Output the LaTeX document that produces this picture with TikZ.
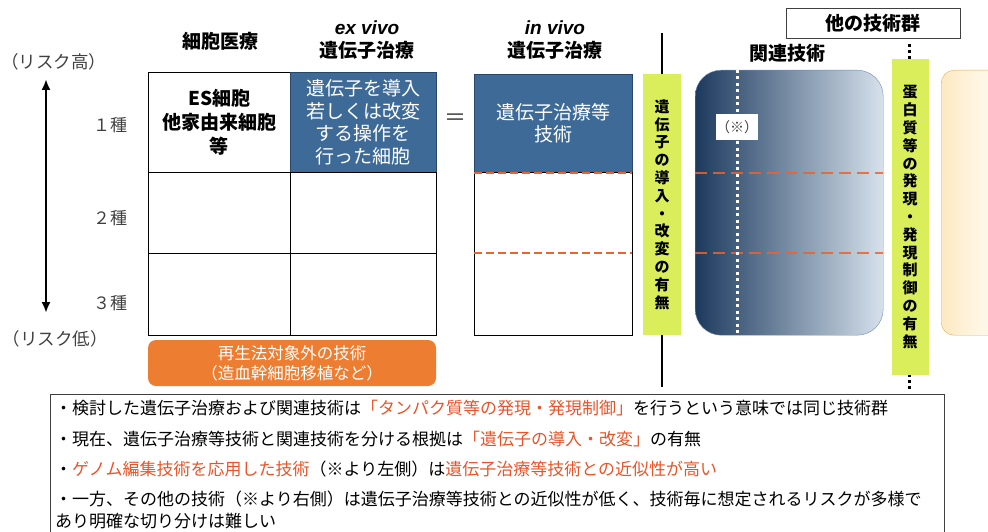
\documentclass[tikz,border=0pt]{standalone}
\usepackage{fontspec}
\setmainfont{Noto Sans CJK JP}
\newfontfamily\latinsans{Liberation Sans}
\usetikzlibrary{arrows.meta}

\definecolor{cellblue}{RGB}{62,106,152}
\definecolor{cellline}{RGB}{40,70,105}
\definecolor{bandgreen}{RGB}{218,238,92}
\definecolor{hl}{RGB}{232,84,40}
\definecolor{boxorange}{RGB}{237,125,49}
\definecolor{dashorange}{RGB}{232,100,50}
\definecolor{navy}{RGB}{28,58,94}
\definecolor{paleblue}{RGB}{214,225,236}
\definecolor{relline}{RGB}{110,140,175}
\definecolor{gold}{RGB}{246,200,105}
\definecolor{peach}{RGB}{252,228,180}
\definecolor{cream}{RGB}{255,247,230}
\definecolor{goldline}{RGB}{222,175,90}
\definecolor{softgray}{RGB}{64,64,64}
\pgfdeclarehorizontalshading{goldfade}{100bp}{color(0bp)=(gold); color(18bp)=(peach); color(45bp)=(cream); color(100bp)=(cream)}

\begin{document}
\begin{tikzpicture}[x=1pt, y=-1pt,
  head/.style={font=\bfseries\fontsize{19}{23}\selectfont, align=center},
  cell/.style={draw, anchor=north west, inner sep=0pt, align=center},
  band/.style={fill=bandgreen, inner sep=0pt, align=center, font=\bfseries\fontsize{15}{17.8}\selectfont},
  odash/.style={dashorange, line width=2pt, dash pattern=on 8pt off 4pt},
  note/.style={anchor=west, inner sep=0pt, font=\fontsize{17}{21}\selectfont},
  rank/.style={text=softgray, font=\fontsize{17}{20}\selectfont}]
\useasboundingbox (0,0) rectangle (988,532);
\clip (0,0) rectangle (988,532);

% Risk axis
\node[rank, font=\fontsize{17.5}{20}\selectfont] (riskhi) at (54,62) {（リスク高）};
\node[rank, font=\fontsize{17.5}{20}\selectfont] (risklo) at (55,339) {（リスク低）};
\coordinate (axtop) at (46,79);
\coordinate (axbot) at (46,313);
\draw[<->, >={Latex[length=11pt,width=9pt]}, line width=2.6pt] (axtop) -- (axbot);

\node[rank] (r1) at (110,125) {１種};
\node[rank] (r2) at (110,218) {２種};
\node[rank] (r3) at (110,303) {３種};

% Column heads
\node[head] (hcell) at (220,41) {細胞医療};
\node[head] (hex) at (367,40) {{\latinsans\itshape ex vivo}\\遺伝子治療};
\node[head] (hin) at (555,40) {{\latinsans\itshape in vivo}\\遺伝子治療};

% ex vivo table
\node[cell, minimum width=142pt, minimum height=100pt, font=\bfseries\fontsize{19}{24}\selectfont] (es) at (148,72) {ES細胞\\他家由来細胞\\等};
\node[cell, fill=cellblue, draw=cellline, text=white, minimum width=146pt, minimum height=100pt, font=\fontsize{19}{22.5}\selectfont] (exgene) at (290,72) {遺伝子を導入\\若しくは改変\\する操作を\\行った細胞};
\node[cell, minimum width=142pt, minimum height=81pt] (es2) at (148,172) {};
\node[cell, minimum width=146pt, minimum height=81pt] (ex2) at (290,172) {};
\node[cell, minimum width=142pt, minimum height=82pt] (es3) at (148,253) {};
\node[cell, minimum width=146pt, minimum height=82pt] (ex3) at (290,253) {};

\node[font=\fontsize{22}{22}\selectfont, text=softgray] (eq) at (455,120) {＝};

% in vivo table
\node[cell, fill=cellblue, draw=cellline, text=white, minimum width=158pt, minimum height=98pt, font=\fontsize{19}{22.5}\selectfont] (ivgene) at (474,74) {遺伝子治療等\\技術};
\node[cell, minimum width=158pt, minimum height=163pt] (ivrest) at (474,172) {};
\coordinate (ivcut) at (474,253);
\draw[odash] ([yshift=-1pt]ivrest.north west) -- ([yshift=-1pt]ivrest.north east);
\draw[odash] (ivcut) -- (ivcut -| ivrest.east);

% Gene band
\coordinate (cuttop) at (662,33);
\coordinate (cutbot) at (662,387);
\draw[line width=2.5pt] (cuttop) -- (cutbot);
\node[band, minimum width=38pt, minimum height=261pt] (geneband) at (662,204.5) {遺\\伝\\子\\の\\導\\入\\・\\改\\変\\の\\有\\無};

% Related techniques
\node[head] (hrel) at (787,53) {関連技術};
\node[draw=relline, rounded corners=26pt, left color=navy, right color=paleblue, anchor=north west, minimum width=188pt, minimum height=265pt] (related) at (695,70) {};
\draw[odash, opacity=0.85, dash pattern=on 12pt off 6pt] ([yshift=-1pt]related.west |- ivrest.north) -- ([yshift=-1pt]related.east |- ivrest.north);
\draw[odash, opacity=0.85, dash pattern=on 12pt off 6pt] (related.west |- ivcut) -- (related.east |- ivcut);

\coordinate (marktop) at (737,70);
\coordinate (markbot) at (737,346);
\draw[white, line width=3pt, dash pattern=on 3pt off 3.5pt] (marktop) -- (markbot);
\node[fill=white, minimum width=41pt, minimum height=26pt, inner sep=0pt, text=softgray, font=\fontsize{14}{16}\selectfont] (mark) at (737,127) {（※）};

% Other techniques
\node[head, draw=softgray, minimum width=174pt, minimum height=30pt, inner sep=0pt] (other) at (873,23) {他の技術群};
\coordinate (prottop) at (909,44);
\coordinate (protbot) at (909,390);
\draw[line width=3pt, dash pattern=on 3pt off 3pt] (prottop) -- (protbot);
\node[band, minimum width=37pt, minimum height=316pt] (protband) at (910,217) {蛋\\白\\質\\等\\の\\発\\現\\・\\発\\現\\制\\御\\の\\有\\無};
\node[draw=goldline, rounded corners=13pt, shading=goldfade, anchor=north west, minimum width=100pt, minimum height=265pt] (otherbox) at (941,70) {};

% Outside the law
\node[fill=boxorange, rounded corners=8pt, minimum width=288pt, minimum height=46pt, inner sep=0pt, text=white, align=center, font=\fontsize{16.5}{20}\selectfont] (outside) at (292,363) {再生法対象外の技術\\（造血幹細胞移植など）};

% Notes
\node[draw=softgray, anchor=north west, minimum width=894pt, minimum height=160pt] (notes) at (50,394) {};
\node[note] (n1) at (55,408) {・検討した遺伝子治療および関連技術は\textcolor{hl}{「タンパク質等の発現・発現制御」}を行うという意味では同じ技術群};
\node[note] (n2) at (55,439) {・現在、遺伝子治療等技術と関連技術を分ける根拠は\textcolor{hl}{「遺伝子の導入・改変」}の有無};
\node[note] (n3) at (55,469) {・\textcolor{hl}{ゲノム編集技術を応用した技術}（※より左側）は\textcolor{hl}{遺伝子治療等技術との近似性が高い}};
\node[note] (n4) at (55,499) {・一方、その他の技術（※より右側）は遺伝子治療等技術との近似性が低く、技術毎に想定されるリスクが多様で};
\node[note] (n5) at (55,521) {あり明確な切り分けは難しい};

\end{tikzpicture}
\end{document}
